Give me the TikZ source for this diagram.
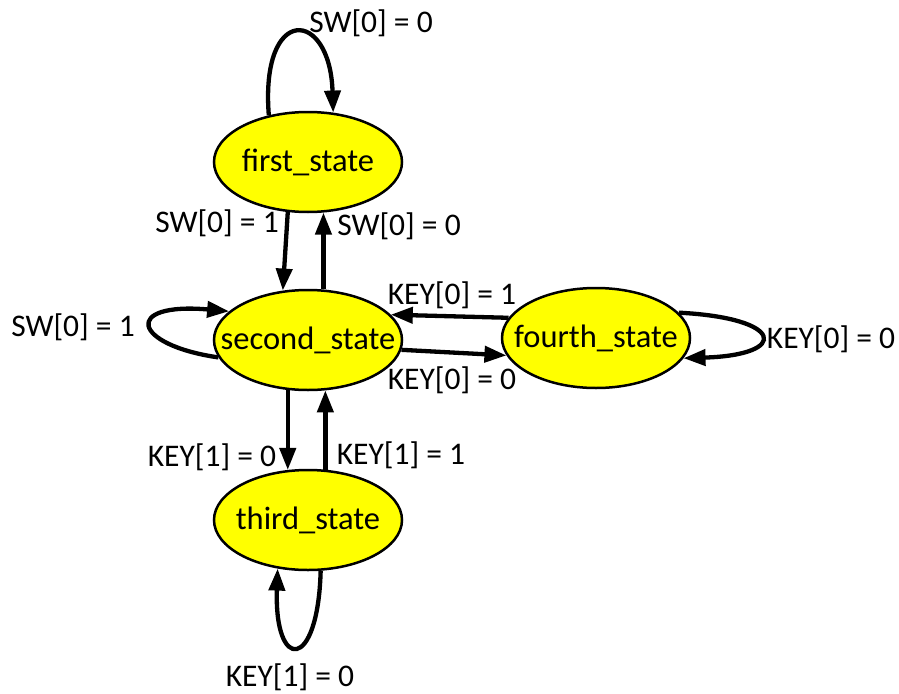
\documentclass[tikz,border=0pt]{standalone}
\usepackage{fontspec}
\setmainfont{Carlito}
\usepackage{xcolor}
\definecolor{stateyellow}{RGB}{255,255,0}
\usetikzlibrary{arrows.meta,shapes.geometric}
% keep the state ellipses the same size whatever the name
\newcommand{\statename}[1]{\makebox[0pt]{#1}}

\begin{document}
\begin{tikzpicture}[x=1pt, y=-1pt,
    state/.style={ellipse, draw=black, line width=2.5pt, fill=stateyellow,
        minimum width=188pt, minimum height=100pt, inner sep=0pt,
        font=\fontsize{32.5}{36}\selectfont},
    trans/.style={line width=4.3pt, -{Triangle[length=22pt, width=16pt]}},
    cond/.style={font=\fontsize{31.5}{36}\selectfont, inner sep=0pt}]
        \useasboundingbox (0,0) rectangle (899,693);
        % The four states
        \node[state] (first) at (308,162) {\statename{first\_state}};
        \node[state] (second) at (308,340) {\statename{second\_state}};
        \node[state] (fourth) at (596,338) {\statename{fourth\_state}};
        \node[state] (third) at (308,520) {\statename{third\_state}};

        % first <-> second
        \draw[trans] (first.-112) -- (second.117);
        \draw[trans] (second.73) -- (first.-73);
        % second <-> fourth
        \draw[trans] (fourth.167) -- (second.17);
        \draw[trans] (second.-6) -- (fourth.-169);
        % second <-> third
        \draw[trans] (second.-112) -- (third.112);
        \draw[trans] (third.71) -- (second.-71);

        % Self loops
        \draw[trans] (first.130) .. controls (260,4) and (330,8) .. (first.63);
        \draw[trans] (second.191) .. controls (132,345) and (122,302) .. (second.160);
        \draw[trans] (fourth.17) .. controls (785,318) and (790,355) .. (fourth.-13);
        \draw[trans] (third.-76) .. controls (318,672) and (274,672) .. (third.-122);

        % Conditions on the transitions
        \node[cond] (c1) at (371,23) {SW[0] = 0};
        \node[cond] (c2) at (217,223) {SW[0] = 1};
        \node[cond] (c3) at (399,226) {SW[0] = 0};
        \node[cond] (c4) at (73,327) {SW[0] = 1};
        \node[cond] (c5) at (452,295) {KEY[0] = 1};
        \node[cond] (c6) at (452,380) {KEY[0] = 0};
        \node[cond] (c7) at (831,339) {KEY[0] = 0};
        \node[cond] (c8) at (212,457) {KEY[1] = 0};
        \node[cond] (c9) at (401,455) {KEY[1] = 1};
        \node[cond] (c10) at (290,677) {KEY[1] = 0};
\end{tikzpicture}
\end{document}
